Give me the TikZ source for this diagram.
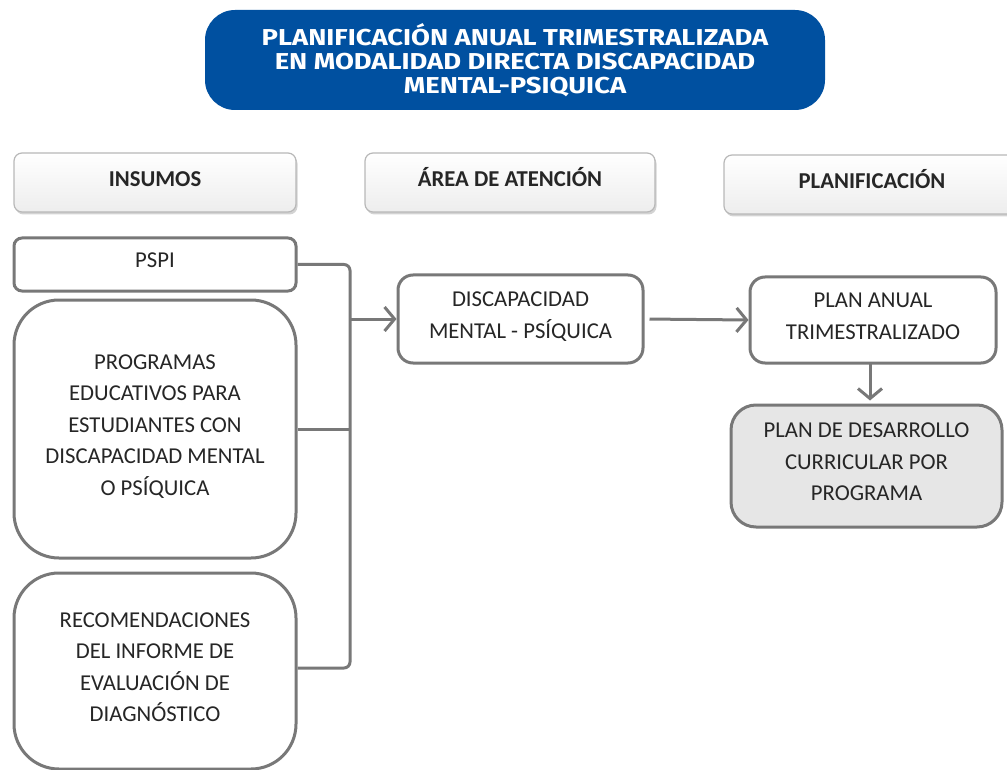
\documentclass[tikz,border=0pt]{standalone}
\usepackage{fontspec}
\setmainfont{Carlito}
\newfontfamily\titlefont[FakeStretch=1.19]{Fira Sans}
\usetikzlibrary{arrows.meta,shadows}
\definecolor{ln}{HTML}{787878}
\definecolor{tblue}{HTML}{0050A0}
\definecolor{pfill}{HTML}{E6E6E6}
\begin{document}
\begin{tikzpicture}[x=1pt,y=-1pt,
  box/.style={draw=ln, line width=3pt, fill=white, align=center, inner sep=0pt,
    text depth=8pt, font=\fontsize{22.7}{31.5}\selectfont, text=black!85},
  hdr/.style={draw=black!28, line width=1.2pt, top color=white, bottom color=black!7,
    rounded corners=8, inner sep=0pt, text height=15pt, text depth=7pt,
    font=\bfseries\fontsize{22.7}{24}\selectfont,
    text=black!85, drop shadow={opacity=0.35, shadow xshift=1.5pt, shadow yshift=-2.5pt}},
  conn/.style={draw=ln, line width=3pt},
  arr/.style={conn, -{Straight Barb[length=10pt,width=24pt]}}]
\useasboundingbox (0,0) rectangle (1007,770);
% title
\node[fill=tblue, rounded corners=30, minimum width=620pt, minimum height=100pt,
  inner sep=0pt, align=center, text=white,
  font=\titlefont\bfseries\fontsize{23}{24}\selectfont] (title) at (515,60)
  {PLANIFICACIÓN ANUAL TRIMESTRALIZADA\\EN MODALIDAD DIRECTA DISCAPACIDAD\\MENTAL-PSIQUICA};
% headers
\node[hdr, minimum width=282pt, minimum height=59pt] (h1) at (155,182.5) {INSUMOS};
\node[hdr, minimum width=290pt, minimum height=59pt] (h2) at (510,182.5) {ÁREA DE ATENCIÓN};
\node[hdr, minimum width=296pt, minimum height=59pt] (h3) at (872,184.5) {PLANIFICACIÓN};
% inputs
\node[box, rounded corners=8, minimum width=282pt, minimum height=53pt] (pspi) at (155,264.5) {PSPI};
\node[box, rounded corners=45, minimum width=282pt, minimum height=258pt] (prog) at (155,429)
  {PROGRAMAS\\EDUCATIVOS PARA\\ESTUDIANTES CON\\DISCAPACIDAD MENTAL\\O PSÍQUICA};
\node[box, rounded corners=45, minimum width=282pt, minimum height=196pt] (recom) at (155,671)
  {RECOMENDACIONES\\DEL INFORME DE\\EVALUACIÓN DE\\DIAGNÓSTICO};
% area
\node[box, rounded corners=15, minimum width=245pt, minimum height=88pt] (disc) at (520.5,319)
  {DISCAPACIDAD\\MENTAL - PSÍQUICA};
% planning
\node[box, rounded corners=15, minimum width=246pt, minimum height=86pt] (plan) at (873,320)
  {PLAN ANUAL\\TRIMESTRALIZADO};
\node[box, fill=pfill, rounded corners=25, minimum width=271pt, minimum height=122pt] (pdc) at (866.5,466)
  {PLAN DE DESARROLLO\\CURRICULAR POR\\PROGRAMA};
% bracket
\coordinate (bt) at (350,264.5);
\coordinate (bb) at (350,668);
\draw[conn, rounded corners=6] (pspi.east) -- (bt) -- (bb) -- (recom.east |- bb);
\draw[conn] (prog.east) -- (prog.east -| bt);
\draw[arr] (bt |- disc.west) -- (disc.west);
\draw[arr, shorten <=5pt] (disc.east) -- (plan.west);
\coordinate (ad) at (870,363);
\draw[arr, shorten >=3pt] (ad) -- (ad |- pdc.north);
\end{tikzpicture}
\end{document}
